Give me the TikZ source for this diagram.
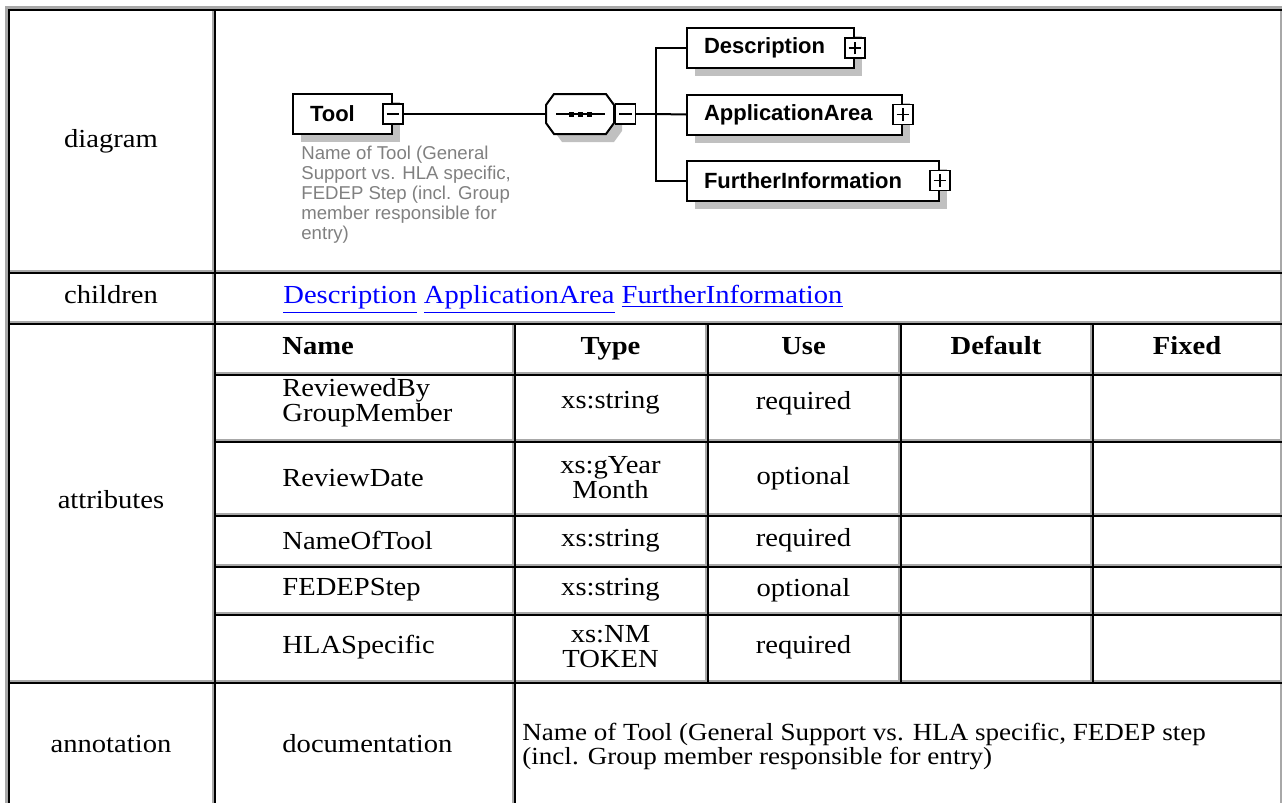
\documentclass[tikz,border=0pt]{standalone}
\usepackage{fontspec}
\setmainfont{Liberation Serif}[FakeStretch=1.1]
\newfontfamily\schemafont{Liberation Sans}
\usetikzlibrary{shadows}

\definecolor{bevelgray}{RGB}{168,168,168}
\definecolor{shadegray}{RGB}{192,192,192}
\definecolor{notegray}{RGB}{128,128,128}
\definecolor{linkblue}{RGB}{0,0,255}

\tikzset{
  lo/.style={line width=1pt, black},
  hi/.style={line width=1pt, bevelgray},
  conn/.style={line width=1pt},
  oneline/.style={text height=0.69em, text depth=0.22em},
  elem/.style={draw, fill=white, line width=1pt, anchor=west, minimum height=20pt,
    inner xsep=8.5pt, inner ysep=0pt, align=left,
    font=\schemafont\bfseries\fontsize{11}{12}\selectfont,
    general shadow={fill=shadegray, shadow xshift=4pt, shadow yshift=-4pt}},
  toggle/.style={draw, fill=white, line width=0.7pt, minimum size=10pt, inner sep=0pt},
  minus/.style={toggle, path picture={
    \draw[line width=0.7pt] ([xshift=-3.2pt]path picture bounding box.center) -- ([xshift=3.2pt]path picture bounding box.center);}},
  plus/.style={toggle, path picture={
    \draw[line width=0.7pt] ([xshift=-3.2pt]path picture bounding box.center) -- ([xshift=3.2pt]path picture bounding box.center);
    \draw[line width=0.7pt] ([yshift=-3.2pt]path picture bounding box.center) -- ([yshift=3.2pt]path picture bounding box.center);}},
}

\newcommand{\cellbox}[4]{%
  \draw[hi] (#1,#4-1) -- (#3-1,#4-1) -- (#3-1,#2);
  \draw[lo] (#1+1,#4) -- (#1+1,#2+1) -- (#3,#2+1);
}

\begin{document}
\fontsize{13}{12.5}\selectfont
\begin{tikzpicture}[x=0.5pt, y=-0.5pt, every node/.append style={inner sep=0pt}]
\useasboundingbox (0,0) rectangle (1282,803);
\clip (0,0) rectangle (1282,803);

\draw[hi, line width=1.5pt] (6.5,812) -- (6.5,7.5) -- (1282,7.5);

\cellbox{8}{9}{214}{272}
\cellbox{214}{9}{1282}{272}
\cellbox{8}{272}{214}{323}
\cellbox{214}{272}{1282}{323}
\cellbox{8}{323}{214}{682}
\foreach \ya/\yb in {323/374, 374/441, 441/515, 515/566, 566/614, 614/682}
  \foreach \xa/\xb in {214/514, 514/707, 707/900, 900/1092, 1092/1282}
    {\cellbox{\xa}{\ya}{\xb}{\yb}}
\cellbox{8}{682}{214}{812}
\cellbox{214}{682}{514}{812}
\cellbox{514}{682}{1282}{812}

\node[oneline] (diagram) at (111,141) {diagram};
\node[oneline] (children) at (111,297.5) {children};
\node[oneline] (attributes) at (111,502.5) {attributes};
\node[oneline] (annotation) at (111,746) {annotation};

\node[oneline, anchor=west, text=linkblue] (links) at (283,297.5)
  {\underline{Description} \underline{ApplicationArea} \underline{FurtherInformation}};

\node[oneline, anchor=west, font=\bfseries] (hname) at (282,348.5) {Name};
\node[oneline, font=\bfseries] (htype) at (610.5,348.5) {Type};
\node[oneline, font=\bfseries] (huse) at (803.5,348.5) {Use};
\node[oneline, font=\bfseries] (hdefault) at (996,348.5) {Default};
\node[oneline, font=\bfseries] (hfixed) at (1187,348.5) {Fixed};

\foreach \yc/\nm/\ty/\us [count=\i] in {403/{ReviewedBy\\GroupMember}/xs:string/required,
    478/ReviewDate/{xs:gYear\\Month}/optional, 540.5/NameOfTool/xs:string/required,
    590/FEDEPStep/xs:string/optional, 647/HLASpecific/{xs:NM\\TOKEN}/required}{
  \node[anchor=west, align=left] (name\i) at (282,\yc) {\nm};
  \node[align=center] (type\i) at (610.5,\yc) {\ty};
  \node[oneline] (use\i) at (803.5,\yc) {\us};
}

\node[oneline, anchor=west] (doc) at (282,746) {documentation};
\node[anchor=west, align=left, font=\fontsize{12.3}{12}\selectfont] (doctext) at (522,746)
  {Name of Tool (General Support vs. HLA specific, FEDEP step\\(incl. Group member responsible for entry)};

\node[elem, text width=32.5pt] (tool) at (292,114) {Tool};
\node[minus] (toolminus) at (tool.east) {};
\node[anchor=north west, align=left, text=notegray,
  font=\schemafont\fontsize{9.3}{10}\selectfont] (toolnote) at (301,146)
  {Name of Tool (General\\Support vs. HLA specific,\\FEDEP Step (incl. Group\\member responsible for\\entry)};

\fill[shadegray, shift={(8,8)}] (546,105) -- (554,94) -- (606,94) -- (614,105)
  -- (614,123) -- (606,134) -- (554,134) -- (546,123) -- cycle;
\draw[conn, fill=white] (546,105) -- (554,94) -- (606,94) -- (614,105)
  -- (614,123) -- (606,134) -- (554,134) -- (546,123) -- cycle;
\node[minimum width=34pt, minimum height=20pt, anchor=west] (seq) at (546,114) {};
\draw[conn] (556,114) -- (605,114);
\foreach \dx in {-9,0,9}
  \fill (580+\dx-2.5,111.5) rectangle (580+\dx+2.5,116.5);
\node[minus, anchor=west] (seqminus) at (seq.east) {};

\coordinate (branch) at (656,114);
\node[elem, text width=66.5pt] (desc) at (686,48) {Description};
\node[plus] (descplus) at (desc.east) {};
\node[elem, text width=90.5pt] (apparea) at (686,114.5) {ApplicationArea};
\node[plus] (appplus) at (apparea.east) {};
\node[elem, text width=109pt] (furtherinfo) at (686,180.5) {FurtherInformation};
\node[plus] (furtherplus) at (furtherinfo.east) {};

\draw[conn] (toolminus) -- (seq);
\draw[conn] (seqminus) -- (branch);
\draw[conn] (branch) |- (desc.west);
\draw[conn] (branch) -- (apparea.west);
\draw[conn] (branch) |- (furtherinfo.west);

\end{tikzpicture}
\end{document}
